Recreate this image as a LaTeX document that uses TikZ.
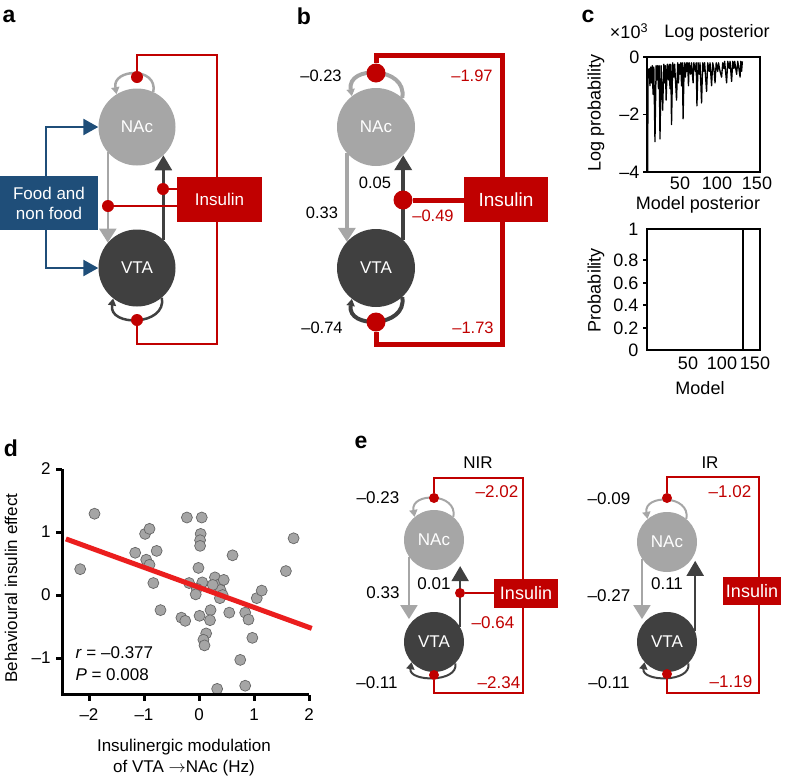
\documentclass[tikz,border=0pt]{standalone}
\usepackage{fontspec}
\setmainfont{Liberation Sans}
\usepackage{tikz}
\usetikzlibrary{arrows.meta, positioning, backgrounds}
\definecolor{nacgray}{RGB}{166,166,166}
\definecolor{vtadark}{RGB}{64,64,64}
\definecolor{insred}{RGB}{192,0,0}
\definecolor{foodblue}{RGB}{31,78,121}
\definecolor{fitred}{RGB}{235,30,30}
\definecolor{ptgray}{RGB}{165,165,165}

\begin{document}
\begin{tikzpicture}[
  x=1pt, y=1pt,
  font=\fontsize{17}{20}\selectfont,
  region/.style={circle, inner sep=0pt, text=white},
  nac/.style={region, fill=nacgray},
  vta/.style={region, fill=vtadark},
  insbox/.style={rectangle, fill=insred, text=white, inner sep=0pt},
  foodbox/.style={rectangle, fill=foodblue, text=white, inner sep=0pt},
  moddot/.style={circle, fill=insred, inner sep=0pt},
  redwire/.style={draw=insred, line width=#1},
  foodarrow/.style={draw=foodblue, line width=2.5pt, -{Triangle[length=15pt, width=16pt]}},
  grayarrow/.style={draw=nacgray, line width=#1, -{Triangle[length=14pt, width=17pt]}},
  darkarrow/.style={draw=vtadark, line width=#1, -{Triangle[length=15pt, width=17pt]}},
  grayloop/.style={draw=nacgray, line width=#1, -{Triangle[length=7pt, width=8pt]}},
  darkloop/.style={draw=vtadark, line width=#1, -{Triangle[length=7pt, width=8pt]}},
  panel/.style={font=\fontsize{23}{25}\selectfont\bfseries},
  num/.style={font=\fontsize{16.5}{18}\selectfont},
  rnum/.style={num, text=insred},
  axisline/.style={line width=1.2pt},
  plotlab/.style={font=\fontsize{18}{20}\selectfont},
  tick/.style={font=\fontsize{18}{20}\selectfont}
]
\useasboundingbox (0,0) rectangle (788,-777);

% --- a: model space ---
\node[panel] (la) at (9,-16) {a};
\node[nac, minimum size=77pt] (nacA) at (137,-127) {NAc};
\node[vta, minimum size=77pt] (vtaA) at (137,-268) {VTA};
\node[foodbox, minimum width=98pt, minimum height=54pt, align=center] (foodA) at (49,-203) {Food and\\non food};
\node[insbox, minimum width=85pt, minimum height=45pt] (insA) at (219.5,-199.5) {Insulin};
\node[moddot, minimum size=12pt] (topdotA) at (137,-77) {};
\node[moddot, minimum size=12pt] (botdotA) at (137,-320) {};
\node[moddot, minimum size=12pt] (updotA) at (163,-189) {};
\node[moddot, minimum size=12pt] (downdotA) at (108,-206) {};
\coordinate (trA) at (217,-55);
\coordinate (brA) at (217,-344);

\begin{scope}[on background layer]
  \draw[foodarrow] ([xshift=-3pt]foodA.north) |- (nacA.west);
  \draw[foodarrow] ([xshift=-3pt]foodA.south) |- (vtaA.west);
  \draw[grayarrow=2.5pt] (nacA.221) -- (vtaA.139);
  \draw[darkarrow=2.5pt] (vtaA.47) -- (nacA.313);
  \draw[grayloop=2.5pt] (nacA.65) .. controls +(80:26) and +(100:26) .. (nacA.122);
  \draw[darkloop=2.5pt] (vtaA.310) .. controls +(-80:29) and +(-100:29) .. (vtaA.232);
  \draw[redwire=2.5pt] (trA |- insA.north) -- (trA) -| (topdotA);
  \draw[redwire=2.5pt] (brA |- insA.south) -- (brA) -| (botdotA);
  \draw[redwire=2.5pt] (insA.west |- updotA) -- (updotA);
  \draw[redwire=2.5pt] (insA.west |- downdotA) -- (downdotA);
\end{scope}

% --- b: fitted parameters ---
\node[panel] (lb) at (304,-16) {b};
\node[nac, minimum size=78pt] (nacB) at (376,-127) {NAc};
\node[vta, minimum size=78pt] (vtaB) at (376,-268) {VTA};
\node[insbox, minimum width=84pt, minimum height=45pt, font=\fontsize{19}{21}\selectfont] (insB) at (506,-199.5) {Insulin};
\node[moddot, minimum size=19pt] (topdotB) at (376,-73) {};
\node[moddot, minimum size=19pt] (botdotB) at (376,-322) {};
\node[moddot, minimum size=19pt] (updotB) at (403,-200) {};
\coordinate (trB) at (502,-55);
\coordinate (brB) at (502,-344);

\begin{scope}[on background layer]
  \draw[grayarrow=3.5pt] (nacB.222) -- (vtaB.138);
  \draw[darkarrow=3.5pt] (vtaB.46) -- (nacB.314);
  \draw[grayloop=4pt] (nacB.48) .. controls +(80:32) and +(100:32) .. (nacB.128);
  \draw[darkloop=4pt] (vtaB.312) .. controls +(-80:31) and +(-100:31) .. (vtaB.232);
  \draw[redwire=5pt] (trB |- insB.north) -- (trB) -| (topdotB);
  \draw[redwire=5pt] (brB |- insB.south) -- (brB) -| (botdotB);
  \draw[redwire=5pt] (insB.west |- updotB) -- (updotB);
\end{scope}

\node[num] (kNB) at (321,-76) {–0.23};
\node[rnum] (iNB) at (472,-76) {–1.97};
\node[num] (kFB) at (375,-183) {0.05};
\node[num] (kBB) at (322,-213) {0.33};
\node[rnum] (iFB) at (433,-216) {–0.49};
\node[num] (kVB) at (322,-328) {–0.74};
\node[rnum] (iVB) at (473,-328) {–1.73};

% --- c: model comparison ---
\node[panel] (lc) at (588,-16) {c};
\node[plotlab] (scc) at (629,-31) {×10\textsuperscript{3}};
\node[plotlab] (tlc) at (717,-33) {Log posterior};
\draw[axisline] (647,-57) rectangle (760,-172);
\foreach \v/\t in {0/0, -2/–2, -4/–4} {
  \draw[axisline] (643,-57+28.75*\v) -- (647,-57+28.75*\v);
  \node[tick, anchor=east] at (643,-57+28.75*\v) {\t};
}
\foreach \m/\t in {680/50, 717/100, 757/150}
  \node[tick] at (\m,-183) {\t};
\node[plotlab, rotate=90] (ylc) at (596,-113) {Log probability};
\begin{scope}[shift={(641.5,-57)}, x=0.77pt, y=28.75pt]
  \draw[line width=1.3pt, line join=round]
    plot coordinates {(8,-4) (8.5,-0.5) (10,-0.4) (11,-1.0) (12,-0.35) (13,-0.9) (14,-0.3)
    (15,-1.3) (16,-0.35) (17.5,-2.95) (19,-0.3) (20,-0.8) (21,-0.3) (22,-1.1) (23,-0.3)
    (24,-2.85) (25.5,-0.3) (27.5,-1.85) (29,-0.25) (30,-0.9) (31,-0.3) (32,-1.5) (33.5,-0.25)
    (35,-0.8) (36,-0.25) (37,-1.1) (38,-0.25) (39,-2.35) (40.5,-0.2) (42,-0.7) (43,-0.25)
    (45.5,-1.5) (47,-0.2) (48,-0.9) (49,-0.25) (50,-0.6) (51,-0.2) (52,-1.0) (53,-0.2)
    (54,-2.15) (55.5,-0.2) (57,-0.7) (58,-0.2) (59,-0.5) (60,-0.2) (61,-1.0) (62,-0.2)
    (64,-0.6) (65,-0.2) (67,-0.9) (68,-0.2) (70,-0.5) (71,-0.2) (72,-1.7) (73.5,-0.2)
    (75,-0.6) (76,-0.2) (78,-1.6) (79.5,-0.2) (81,-0.5) (82,-0.2) (84.5,-1.2) (86,-0.2)
    (88,-0.5) (89,-0.2) (91,-1.0) (92.5,-0.2) (94,-0.4) (95.5,-0.9) (97,-0.2) (99,-0.5)
    (100,-0.2) (102,-0.5) (104,-0.7) (105.5,-0.2) (107,-0.4) (108,-0.15) (110.5,-0.9)
    (112,-0.15) (114,-0.4) (115,-0.15) (117,-0.85) (118.5,-0.15) (120,-0.4) (121,-0.15)
    (123.5,-0.6) (125,-0.15) (126.5,-0.4) (128,-0.7) (129,-0.15) (130,-0.5) (131,-0.15)};
\end{scope}

\node[plotlab] (tbc) at (698,-205) {Model posterior};
\draw[axisline] (647,-229) rectangle (760,-350);
\draw[axisline] (743,-229) -- (743,-350);
\foreach \y/\t in {260/0.8, 283/0.6, 305/0.4, 328/0.2}
  \draw[axisline] (643,-\y) -- (647,-\y);
\foreach \y/\t in {229/1, 260/0.8, 283/0.6, 305/0.4, 328/0.2, 350/0}
  \node[tick, anchor=east] at (642,-\y) {\t};
\foreach \m/\t in {688/50, 722/100, 755/150}
  \node[tick] at (\m,-363) {\t};
\node[plotlab] (xlc) at (700,-388) {Model};
\node[plotlab, rotate=90] (ybc) at (596,-290) {Probability};

% --- d: correlation ---
\node[panel] (ld) at (11,-448) {d};
\begin{scope}[shift={(199,-595)}, x=55pt, y=63pt]
  \foreach \px/\py in {-1.90/1.29, -2.16/0.41, -0.98/0.97, -0.90/1.05, -1.16/0.67,
      -0.96/0.56, -0.90/0.48, -0.77/0.70, -0.83/0.19, -0.70/-0.24, -0.22/1.23,
      0.05/1.23, 0.03/0.97, 0.02/0.87, 0.02/0.78, -0.01/0.43, -0.18/0.19, 0.06/0.20,
      -0.04/0.10, -0.06/0.01, 0.01/-0.33, -0.32/-0.36, -0.25/-0.41, 0.21/-0.24,
      0.20/-0.40, 0.13/-0.61, 0.08/-0.71, 0.10/-0.80, 0.29/0.28, 0.37/0.17, 0.45/0.24,
      0.39/0.08, 0.43/0.00, 0.38/-0.05, 0.55/-0.28, 0.61/0.63, 0.84/-0.28, 0.90/-0.39,
      0.97/-0.68, 1.05/-0.05, 1.14/0.07, 0.75/-1.03, 0.84/-1.44, 0.33/-1.49, 1.58/0.38,
      1.72/0.90, 0.25/0.16}
    \filldraw[fill=ptgray, draw=vtadark!80, line width=0.7pt] (\px,\py) circle (5.5pt);
  \draw[fitred, line width=5pt] (-2.42,0.89) -- (2.05,-0.53);
  \draw[line width=3pt] (-2.49,2) -- (-2.49,-1.587) -- (2,-1.587);
  \foreach \t/\l in {2/2, 1/1, 0/0, -1/–1} {
    \draw[line width=3pt] (-2.49,\t) -- ++(-6pt,0);
    \node[anchor=east] at ([xshift=-8pt]-2.49,\t) {\l};
  }
  \foreach \t/\l in {-2/–2, -1/–1, 0/0, 1/1, 2/2} {
    \draw[line width=3pt] (\t,-1.587) -- ++(0,-6pt);
    \node[anchor=north] at ([yshift=-10pt]\t,-1.587) {\l};
  }
\end{scope}
\node[anchor=west] (rd) at (72,-653) {\textit{r} = –0.377};
\node[anchor=west] (pd) at (72,-675) {\textit{P} = 0.008};
\node[rotate=90] (yld) at (11,-588) {Behavioural insulin effect};
\node (xld1) at (184,-747) {Insulinergic modulation};
\node (xld2) at (184,-768) {of VTA $\rightarrow$NAc (Hz)};

% --- e: NIR ---
\node[panel] (le) at (361,-442) {e};
\node (tNIR) at (478,-463) {NIR};
\node[nac, minimum size=60pt] (nacN) at (434,-540) {NAc};
\node[vta, minimum size=60pt] (vtaN) at (434,-642) {VTA};
\node[insbox, minimum width=64pt, minimum height=29pt, font=\fontsize{18}{20}\selectfont] (insN) at (526,-593.5) {Insulin};
\node[moddot, minimum size=10pt] (topdotN) at (434,-498) {};
\node[moddot, minimum size=10pt] (botdotN) at (434,-675) {};
\node[moddot, minimum size=10pt] (updotN) at (460,-593) {};
\coordinate (trN) at (523,-478);
\coordinate (brN) at (523,-693);

\begin{scope}[on background layer]
  \draw[grayarrow=2pt, shorten >=6pt] (nacN.214) -- (vtaN.146);
  \draw[darkarrow=2pt, shorten >=11pt] (vtaN.30) -- (nacN.330);
  \draw[grayloop=2pt] (nacN.50) .. controls +(80:25) and +(100:25) .. (nacN.130);
  \draw[darkloop=2pt] (vtaN.315) .. controls +(-80:20) and +(-100:20) .. (vtaN.222);
  \draw[redwire=2pt] (trN |- insN.north) -- (trN) -| (topdotN);
  \draw[redwire=2pt] (brN |- insN.south) -- (brN) -| (botdotN);
  \draw[redwire=2pt] (insN.west |- updotN) -- (updotN);
\end{scope}

\node[num, font=\fontsize{17}{19}\selectfont] (kNN) at (378,-498) {–0.23};
\node[rnum, font=\fontsize{17}{19}\selectfont] (iNN) at (497,-492) {–2.02};
\node[num, font=\fontsize{17}{19}\selectfont] (kBN) at (383,-593) {0.33};
\node[num, font=\fontsize{17}{19}\selectfont] (kFN) at (434,-584) {0.01};
\node[rnum, font=\fontsize{17}{19}\selectfont] (iFN) at (493,-623) {–0.64};
\node[num, font=\fontsize{17}{19}\selectfont] (kVN) at (377,-683) {–0.11};
\node[rnum, font=\fontsize{17}{19}\selectfont] (iVN) at (499,-683) {–2.34};

% --- e: IR ---
\node (tIR) at (710,-463) {IR};
\node[nac, minimum size=60pt] (nacI) at (667,-542) {NAc};
\node[vta, minimum size=60pt] (vtaI) at (667,-642) {VTA};
\node[insbox, minimum width=58pt, minimum height=28pt, font=\fontsize{18}{20}\selectfont] (insI) at (752,-591) {Insulin};
\node[moddot, minimum size=10pt] (topdotI) at (667,-498) {};
\node[moddot, minimum size=10pt] (botdotI) at (667,-674) {};
\coordinate (trI) at (759,-477);
\coordinate (brI) at (759,-693);

\begin{scope}[on background layer]
  \draw[grayarrow=2pt, shorten >=6pt] (nacI.214) -- (vtaI.146);
  \draw[darkarrow=2pt, shorten >=8pt] (vtaI.21) -- (nacI.339);
  \draw[grayloop=2pt] (nacI.50) .. controls +(80:25) and +(100:25) .. (nacI.130);
  \draw[darkloop=2pt] (vtaI.315) .. controls +(-80:20) and +(-100:20) .. (vtaI.222);
  \draw[redwire=2pt] (trI |- insI.north) -- (trI) -| (topdotI);
  \draw[redwire=2pt] (brI |- insI.south) -- (brI) -| (botdotI);
\end{scope}

\node[num, font=\fontsize{17}{19}\selectfont] (kNI) at (609,-499) {–0.09};
\node[rnum, font=\fontsize{17}{19}\selectfont] (iNI) at (730,-492) {–1.02};
\node[num, font=\fontsize{17}{19}\selectfont] (kBI) at (609,-596) {–0.27};
\node[num, font=\fontsize{17}{19}\selectfont] (kFI) at (667,-584) {0.11};
\node[num, font=\fontsize{17}{19}\selectfont] (kVI) at (609,-683) {–0.11};
\node[rnum, font=\fontsize{17}{19}\selectfont] (iVI) at (731,-682) {–1.19};

\end{tikzpicture}
\end{document}
